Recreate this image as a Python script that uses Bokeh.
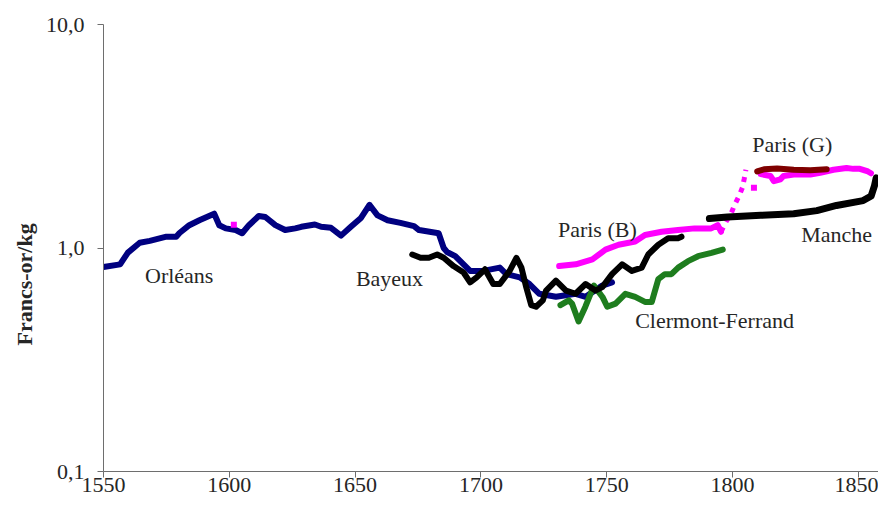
from bokeh.plotting import figure
from bokeh.models import FixedTicker, Label, Title
from bokeh.embed import file_html
from bokeh.resources import INLINE

# ---------------- data ----------------
orleans_year = [1550, 1556.6, 1557.9, 1559.7, 1564.4, 1568.4, 1575, 1578.9, 1580.2, 1584.1, 1588.1, 1594,
                1596, 1598.6, 1602.5, 1605.1, 1607.8, 1611.7, 1614.3, 1618.3, 1622.2, 1626.2, 1628.6, 1634,
                1636.5, 1640.4, 1644.4, 1648.3, 1652.2, 1655.7, 1658.9, 1662.9, 1668, 1673.4, 1675.4, 1683.2,
                1685.2, 1686.5, 1689.8, 1693.1, 1695.7, 1700.9, 1707.5, 1710.1, 1715.4, 1719.3, 1723.2,
                1729.8, 1737.6, 1741.6, 1748.2, 1752.1]
orleans_val = [0.822, 0.845, 0.889, 0.954, 1.055, 1.076, 1.124, 1.124, 1.167, 1.265, 1.331, 1.424,
               1.265, 1.224, 1.203, 1.164, 1.265, 1.39, 1.376, 1.265, 1.203, 1.224, 1.244, 1.274,
               1.244, 1.231, 1.136, 1.244, 1.358, 1.56, 1.4, 1.331, 1.295, 1.253, 1.203, 1.164,
               1.0, 0.96, 0.919, 0.845, 0.79, 0.79, 0.817, 0.764, 0.739, 0.69, 0.624,
               0.605, 0.624, 0.605, 0.679, 0.702]

bayeux_year = [1672.7, 1676, 1679.3, 1682.6, 1685.2, 1689.1, 1693.1, 1695.7, 1698.3, 1701.6, 1704.9, 1707.5,
               1711.4, 1714.1, 1716.1, 1718, 1720, 1721.9, 1724.6, 1725.9, 1729.8, 1733.8, 1737.6, 1741.6,
               1745.5, 1748.2, 1752.1, 1756.1, 1760, 1763.9, 1766.5, 1770.5, 1774.4, 1778.3, 1779.7]
bayeux_val = [0.935, 0.904, 0.904, 0.935, 0.904, 0.83, 0.777, 0.702, 0.739, 0.803, 0.69, 0.69,
              0.79, 0.904, 0.817, 0.668, 0.555, 0.546, 0.583, 0.645, 0.714, 0.645, 0.624, 0.69,
              0.645, 0.668, 0.764, 0.845, 0.79, 0.817, 0.935, 1.034, 1.106, 1.106, 1.124]

clermont_year = [1731.6, 1734.9, 1736.2, 1738.8, 1741.5, 1744.9, 1748.3, 1750.2, 1753.5, 1757.4, 1761.3,
                 1765.2, 1767.9, 1770.5, 1773.1, 1775.7, 1778.4, 1782.3, 1786.3, 1791.6, 1796.1]
clermont_val = [0.555, 0.583, 0.564, 0.469, 0.546, 0.679, 0.604, 0.546, 0.564, 0.624, 0.604,
                0.574, 0.574, 0.726, 0.764, 0.764, 0.817, 0.873, 0.919, 0.951, 0.983]

parisb_year = [1731.1, 1737.7, 1744.3, 1749.5, 1754.7, 1761.3, 1765.2, 1771.8, 1778.3, 1784.9, 1791.5,
               1794.1, 1795.4]
parisb_val = [0.83, 0.845, 0.889, 0.983, 1.034, 1.069, 1.144, 1.182, 1.203, 1.224, 1.224, 1.265, 1.182]

parisb_gap_year = [1795.4, 1797.4, 1799.4, 1800.7, 1802.6, 1803.9, 1804.6, 1805.3]
parisb_gap_val = [1.182, 1.31, 1.424, 1.55, 1.71, 1.86, 2.03, 2.24]

parisb_late_year = [1811.2, 1815.1, 1816.4, 1819, 1820.3, 1824.3, 1830.9, 1834.8, 1840.1, 1845.3, 1848,
                    1850.6, 1853.8, 1855]
parisb_late_val = [2.14, 2.10, 1.99, 2.03, 2.10, 2.13, 2.13, 2.17, 2.24, 2.28, 2.26, 2.26, 2.2, 2.16]

paris_points_year = [1601.8, 1808.5]
paris_points_val = [1.27, 1.86]

parisg_year = [1809.8, 1812.5, 1817.7, 1824.3, 1830.9, 1837.4]
parisg_val = [2.2, 2.25, 2.27, 2.24, 2.23, 2.25]

manche_year = [1790.8, 1798, 1811.2, 1824.3, 1833.5, 1841.3, 1851.9, 1855.1, 1856.4, 1857.1]
manche_val = [1.354, 1.376, 1.4, 1.424, 1.47, 1.55, 1.63, 1.71, 1.9, 2.06]

x_ticks = [1550, 1600, 1650, 1700, 1750, 1800, 1850]
y_ticks = [0.1, 1, 10]
y_tick_labels = ["0,1", "1,0", "10,0"]

# ---------------- figure ----------------
FONT = "Liberation Serif"
TXT = "#262626"

p = figure(width=878, height=501, y_axis_type="log",
           x_range=(1550, 1858), y_range=(0.1, 10),
           output_backend="svg", toolbar_location=None,
           min_border_left=103, min_border_right=0, min_border_top=24, min_border_bottom=30)
p.outline_line_color = None
p.grid.visible = False
p.background_fill_color = "white"

NAVY = "#000080"
GREEN = "#1e7d1e"
MAGENTA = "#ff00ff"
DARKRED = "#7f0000"
LW = 6

p.line(orleans_year, orleans_val, line_color=NAVY, line_width=LW, line_join="round", line_cap="round")
p.line(clermont_year, clermont_val, line_color=GREEN, line_width=LW, line_join="round", line_cap="round")
p.line(parisb_year, parisb_val, line_color=MAGENTA, line_width=LW, line_join="round", line_cap="round")
p.line(bayeux_year, bayeux_val, line_color="black", line_width=LW, line_join="round", line_cap="round")
p.line(parisb_gap_year, parisb_gap_val, line_color=MAGENTA, line_width=5, line_dash="5 6")
p.line(parisb_late_year, parisb_late_val, line_color=MAGENTA, line_width=LW, line_join="round", line_cap="round")
p.scatter(paris_points_year, paris_points_val, marker="square", size=6, fill_color=MAGENTA, line_color=None)
p.line(parisg_year, parisg_val, line_color=DARKRED, line_width=LW, line_join="round", line_cap="round")
p.line(manche_year, manche_val, line_color="black", line_width=7, line_join="round", line_cap="round")

# axes
for ax in (p.xaxis[0], p.yaxis[0]):
    ax.axis_line_color = "#6e6e6e"
    ax.major_tick_line_color = "#6e6e6e"
    ax.major_tick_in = 0
    ax.major_tick_out = 6
    ax.minor_tick_line_color = None
    ax.major_label_text_font = FONT
    ax.major_label_text_font_size = "22px"
    ax.major_label_text_color = TXT

p.xaxis.ticker = FixedTicker(ticks=x_ticks)
p.xaxis.major_label_standoff = 0
p.yaxis.ticker = FixedTicker(ticks=y_ticks)
p.yaxis.major_label_overrides = {t: l for t, l in zip(y_ticks, y_tick_labels)}
p.yaxis.major_label_standoff = 13

ylab = Title(text="Francs-or/kg", align="left", offset=126, standoff=12,
             text_font=FONT, text_font_size="22px", text_font_style="bold", text_color=TXT)
p.add_layout(ylab, "left")

labels = [("Orléans", 1566.5, 0.756), ("Bayeux", 1650.3, 0.733), ("Paris (B)", 1730.6, 1.215),
          ("Clermont-Ferrand", 1761.3, 0.475), ("Manche", 1827.3, 1.144), ("Paris (G)", 1807.8, 2.9)]
for t, x, y in labels:
    p.add_layout(Label(x=x, y=y, text=t, text_font=FONT, text_font_size="22px", text_color=TXT,
                       text_align="left", text_baseline="middle"))

open("out.html", "w").write(file_html(p, INLINE))
